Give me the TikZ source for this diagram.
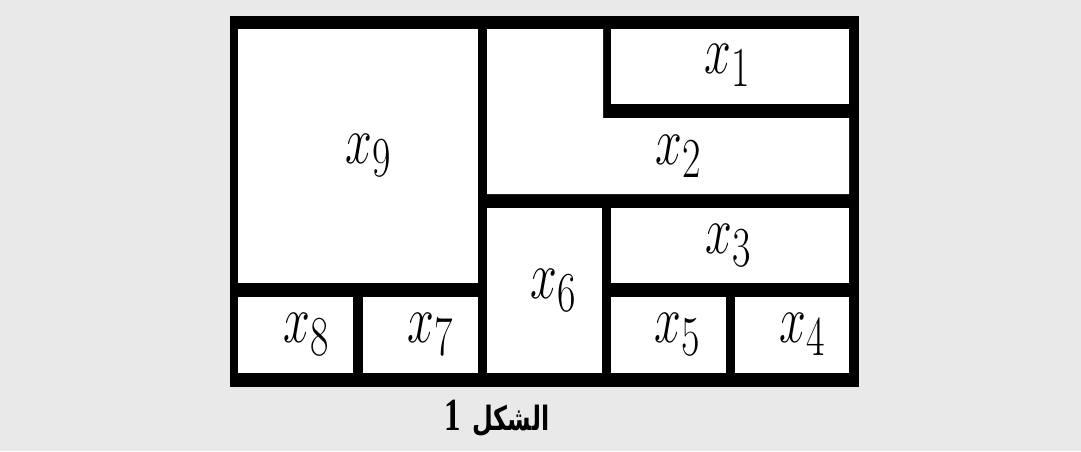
\documentclass[tikz,border=0pt]{standalone}
\usepackage{fontspec}
\newfontfamily\arabicfont[Script=Arabic, Scale=0.8, BoldFont={DejaVu Sans Bold}]{DejaVu Sans}
\newfontfamily\digitfont[Scale=1.1, BoldFont={Liberation Serif Bold}]{Liberation Serif}
\TeXXeTstate=1
\definecolor{bggray}{RGB}{233,233,233}

\begin{document}
\begin{tikzpicture}[
    x=0.02cm, y=-0.02cm,
    wall/.style={fill=black},
    room/.style={fill=white},
    lbl/.style={font=\Huge, xscale=1.1, yscale=1.55, inner sep=0pt}
]

% Background
\fill[bggray] (0,0) rectangle (1081,451);

% Walls
\fill[wall] (230,16) rectangle (859,387);

% Rooms
\fill[room] (238,29) rectangle (478,283);
\fill[room] (238,297) rectangle (353,373);
\fill[room] (363,297) rectangle (478,373);
\fill[room] (487,29) -- (603,29) -- (603,118) -- (849,118) -- (849,194) -- (487,194) -- cycle;
\fill[room] (611,29) rectangle (849,104);
\fill[room] (487,208) rectangle (602,373);
\fill[room] (611,208) rectangle (849,283);
\fill[room] (611,297) rectangle (726,373);
\fill[room] (735,297) rectangle (849,373);

% Labels
\node[lbl] (x1) at (728,65) {$x_1$};
\node[lbl] (x2) at (679,156) {$x_2$};
\node[lbl] (x3) at (729,245) {$x_3$};
\node[lbl] (x4) at (803,334) {$x_4$};
\node[lbl] (x5) at (678,334) {$x_5$};
\node[lbl] (x6) at (554,290) {$x_6$};
\node[lbl] (x7) at (431,334) {$x_7$};
\node[lbl] (x8) at (307,334) {$x_8$};
\node[lbl] (x9) at (369,155) {$x_9$};

% Caption
\node[font=\fontsize{17}{20}\selectfont\bfseries, yscale=1.4, inner sep=0pt] (cap) at (497,418)
    {\beginR{\arabicfont\bfseries الشكل} {\digitfont\bfseries 1}\endR};

\end{tikzpicture}
\end{document}
